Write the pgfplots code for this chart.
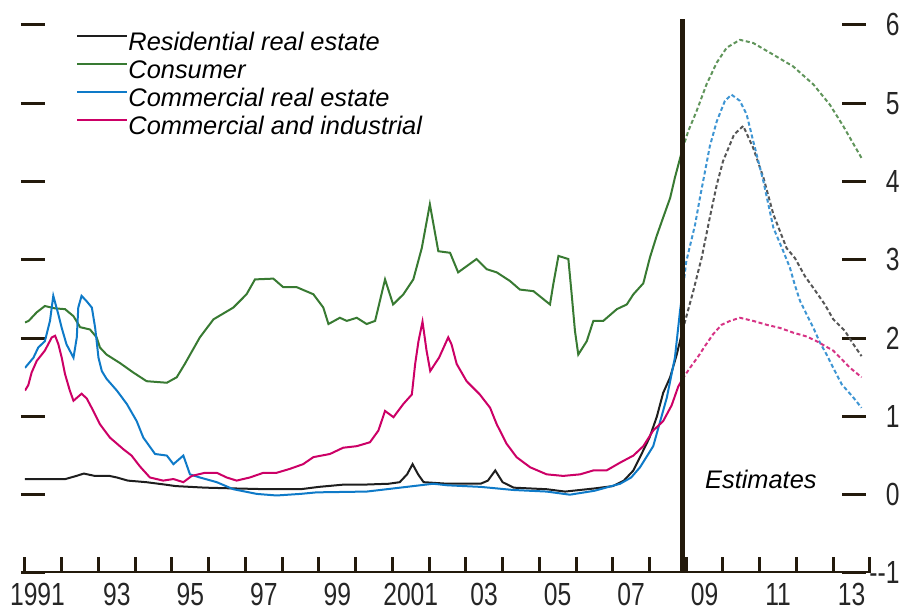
\documentclass[border=0pt]{standalone}
\usepackage{fontspec}
\setmainfont{Liberation Sans}
\newfontfamily\condfont[FakeStretch=0.77]{Liberation Sans}
\usepackage{pgfplots}
\pgfplotsset{compat=1.18}

\definecolor{axiscol}{RGB}{35,26,12}
\definecolor{resid}{RGB}{30,30,30}
\definecolor{cons}{RGB}{56,122,50}
\definecolor{cre}{RGB}{14,122,200}
\definecolor{cni}{RGB}{204,0,102}

\begin{document}
\begin{tikzpicture}
% picture frame: 902 x 610 px at 0.5pt per px, axis corner at px (25,573)
\useasboundingbox (-12.5pt,-18.5pt) rectangle (438.5pt,286.5pt);
\begin{axis}[
    at={(0,0)}, anchor=south west,
    scale only axis,
    width=422.5pt, height=276.75pt,
    xmin=1991, xmax=2014,
    ymin=-1, ymax=6.07,
    axis line style={draw=none},
    tick align=inside,
    xtick={1991,...,2014},
    xticklabels={1991\hspace*{5.9pt},{},93,{},95,{},97,{},99,{},2001,{},03,{},05,{},07,{},09,{},11,{},13,{}},
    xtick pos=left,
    xtick style={/pgfplots/major tick length=8pt, line width=1.5pt, draw=axiscol},
    xticklabel style={anchor=north, inner sep=0pt, yshift=-5pt, xshift=9.19pt},
    ytick={-1,0,...,6},
    yticklabels={--1,0,1,2,3,4,5,6},
    ytick pos=both,
    yticklabel pos=right,
    ytick style={/pgfplots/major tick length=12pt, line width=1.5pt, draw=axiscol, xshift=-2pt},
    yticklabel style={anchor=east, inner sep=0pt, xshift=15pt},
    tick label style={font=\condfont\fontsize{16}{18}\selectfont, text=black!85},
    legend style={at={(0.0604,0.9774)}, anchor=north west, draw=none, fill=none,
        inner sep=0pt, row sep=4.7pt,
        font=\fontsize{12.7}{14}\selectfont\itshape,
        nodes={inner sep=0pt, text height=9.3pt, text depth=0pt}},
    legend cell align=left,
    legend image code/.code={\draw[#1] (0pt,2.6pt) -- (25pt,2.6pt);},
]

% Residential real estate
\addplot[resid, line width=1pt] coordinates {
    (1991.0,0.20) (1991.5,0.20) (1992.1,0.20) (1992.4,0.24) (1992.6,0.27)
    (1992.9,0.24) (1993.3,0.24) (1993.5,0.22) (1993.8,0.18) (1994.3,0.16)
    (1994.8,0.13) (1995.1,0.11) (1995.9,0.09) (1996.7,0.08) (1997.6,0.07)
    (1998.5,0.07) (1999.0,0.10) (1999.7,0.13) (2000.3,0.13) (2000.9,0.14)
    (2001.2,0.16) (2001.4,0.26) (2001.55,0.39) (2001.7,0.26) (2001.85,0.16)
    (2002.5,0.14) (2003.4,0.14) (2003.6,0.18) (2003.8,0.31) (2004.0,0.16)
    (2004.3,0.09) (2005.2,0.07) (2005.7,0.04) (2006.5,0.08) (2007.0,0.11)
    (2007.3,0.18) (2007.56,0.31) (2007.74,0.48) (2008.0,0.73) (2008.2,1.0)
    (2008.37,1.30) (2008.56,1.50) (2008.74,1.79) (2008.9,2.10)
};
\addlegendentry{Residential real estate}

% Consumer
\addplot[cons, line width=1pt] coordinates {
    (1991.0,2.20) (1991.1,2.22) (1991.32,2.33) (1991.54,2.41) (1991.82,2.38)
    (1992.09,2.37) (1992.32,2.28) (1992.5,2.14) (1992.77,2.11) (1992.95,2.01)
    (1993.04,1.88) (1993.22,1.79) (1993.59,1.68) (1993.95,1.56) (1994.31,1.45)
    (1994.86,1.43) (1995.13,1.50) (1995.35,1.67) (1995.76,2.01) (1996.13,2.24)
    (1996.67,2.39) (1997.03,2.56) (1997.26,2.75) (1997.76,2.76) (1998.03,2.65)
    (1998.4,2.65) (1998.85,2.56) (1999.12,2.39) (1999.26,2.18) (1999.57,2.26)
    (1999.76,2.22) (2000.03,2.26) (2000.3,2.18) (2000.53,2.22) (2000.8,2.75)
    (2001.02,2.43) (2001.3,2.56) (2001.57,2.75) (2001.8,3.15) (2002.02,3.71)
    (2002.25,3.11) (2002.57,3.09) (2002.79,2.84) (2003.29,3.01) (2003.57,2.88)
    (2003.84,2.84) (2004.2,2.73) (2004.47,2.62) (2004.84,2.60) (2005.29,2.43)
    (2005.38,2.69) (2005.52,3.05) (2005.79,3.01) (2005.88,2.56) (2005.97,2.09)
    (2006.06,1.79) (2006.29,1.96) (2006.47,2.22) (2006.74,2.22) (2007.11,2.37)
    (2007.38,2.43) (2007.56,2.56) (2007.83,2.70) (2008.01,3.03) (2008.19,3.30)
    (2008.37,3.54) (2008.56,3.79) (2008.69,4.05) (2008.9,4.42)
};
\addlegendentry{Consumer}

% Commercial real estate
\addplot[cre, line width=1pt] coordinates {
    (1991.0,1.62) (1991.23,1.75) (1991.36,1.88) (1991.54,1.96) (1991.68,2.22)
    (1991.77,2.54) (1991.91,2.30) (1992.0,2.13) (1992.13,1.92) (1992.32,1.75)
    (1992.41,2.01) (1992.45,2.39) (1992.54,2.54) (1992.68,2.47) (1992.82,2.39)
    (1992.91,2.13) (1993.0,1.75) (1993.09,1.58) (1993.22,1.48) (1993.5,1.33)
    (1993.77,1.16) (1994.04,0.94) (1994.22,0.73) (1994.54,0.52) (1994.86,0.50)
    (1995.04,0.39) (1995.31,0.50) (1995.49,0.26) (1995.76,0.22) (1996.22,0.16)
    (1996.67,0.07) (1997.31,0.01) (1997.85,-0.01) (1998.49,0.01) (1998.94,0.03)
    (2000.3,0.04) (2001.21,0.09) (2002.11,0.14) (2002.5,0.12) (2003.4,0.10)
    (2004.3,0.06) (2005.2,0.04) (2005.83,0.0) (2006.5,0.05) (2007.2,0.14)
    (2007.5,0.22) (2007.74,0.35) (2008.1,0.62) (2008.47,1.24) (2008.69,1.75)
    (2008.83,2.35) (2008.9,2.60)
};
\addlegendentry{Commercial real estate}

% Commercial and industrial
\addplot[cni, line width=1pt] coordinates {
    (1991.0,1.33) (1991.09,1.40) (1991.18,1.56) (1991.32,1.71) (1991.54,1.84)
    (1991.73,2.01) (1991.82,2.03) (1991.91,1.92) (1992.0,1.75) (1992.09,1.54)
    (1992.22,1.33) (1992.32,1.20) (1992.54,1.29) (1992.68,1.23) (1992.86,1.07)
    (1993.04,0.90) (1993.31,0.73) (1993.68,0.58) (1993.9,0.50) (1994.13,0.36)
    (1994.4,0.22) (1994.76,0.18) (1995.04,0.20) (1995.31,0.16) (1995.54,0.24)
    (1995.9,0.28) (1996.22,0.28) (1996.49,0.22) (1996.76,0.18) (1997.12,0.22)
    (1997.49,0.28) (1997.85,0.28) (1998.21,0.33) (1998.57,0.39) (1998.85,0.48)
    (1999.3,0.52) (1999.66,0.60) (2000.03,0.62) (2000.39,0.67) (2000.62,0.82)
    (2000.8,1.07) (2001.03,0.99) (2001.3,1.16) (2001.53,1.28) (2001.62,1.67)
    (2001.71,1.96) (2001.82,2.21) (2001.93,1.84) (2002.03,1.58) (2002.27,1.75)
    (2002.52,2.01) (2002.61,1.92) (2002.75,1.67) (2003.02,1.45) (2003.38,1.28)
    (2003.66,1.11) (2003.84,0.90) (2004.11,0.65) (2004.38,0.48) (2004.75,0.35)
    (2005.2,0.26) (2005.65,0.24) (2006.11,0.26) (2006.47,0.31) (2006.83,0.31)
    (2007.2,0.41) (2007.56,0.50) (2007.83,0.62) (2008.1,0.82) (2008.37,0.94)
    (2008.6,1.14) (2008.78,1.38) (2008.9,1.48)
};
\addlegendentry{Commercial and industrial}

% --- estimates (dashed) ---
\addplot[resid!75, line width=1pt, dash pattern=on 2pt off 1.3pt, forget plot] coordinates {
    (2008.9,2.10) (2009.19,2.60) (2009.42,3.03) (2009.64,3.54) (2009.83,3.96)
    (2010.0,4.26) (2010.3,4.60) (2010.55,4.71) (2010.82,4.43) (2011.1,4.05)
    (2011.37,3.58) (2011.73,3.15) (2011.96,3.02) (2012.23,2.79) (2012.46,2.64)
    (2012.77,2.43) (2013.0,2.24) (2013.32,2.09) (2013.55,1.92) (2013.77,1.77)
};
\addplot[cons!80, line width=1pt, dash pattern=on 2pt off 1.3pt, forget plot] coordinates {
    (2008.9,4.42) (2009.05,4.64) (2009.28,4.90) (2009.55,5.24) (2009.83,5.52)
    (2010.1,5.71) (2010.46,5.81) (2010.82,5.77) (2011.37,5.62) (2011.91,5.47)
    (2012.46,5.24) (2012.91,4.98) (2013.27,4.71) (2013.77,4.30)
};
\addplot[cre!80, line width=1pt, dash pattern=on 2pt off 1.3pt, forget plot] coordinates {
    (2008.9,2.60) (2009.0,2.98) (2009.24,3.45) (2009.37,3.79) (2009.51,4.13)
    (2009.64,4.45) (2009.83,4.77) (2010.05,5.03) (2010.23,5.11) (2010.46,5.03)
    (2010.64,4.86) (2010.82,4.52) (2011.1,4.00) (2011.37,3.41) (2011.64,3.11)
    (2011.82,2.90) (2011.96,2.67) (2012.1,2.47) (2012.28,2.30) (2012.46,2.13)
    (2012.64,1.94) (2012.82,1.79) (2013.0,1.62) (2013.23,1.41) (2013.55,1.24)
    (2013.77,1.11)
};
\addplot[cni!80, line width=1pt, dash pattern=on 2pt off 1.3pt, forget plot] coordinates {
    (2008.9,1.48) (2009.1,1.62) (2009.33,1.77) (2009.51,1.90) (2009.73,2.05)
    (2009.96,2.17) (2010.19,2.22) (2010.46,2.26) (2010.82,2.22) (2011.19,2.17)
    (2011.55,2.13) (2011.91,2.07) (2012.28,2.02) (2012.55,1.96) (2013.0,1.84)
    (2013.46,1.62) (2013.77,1.50)
};

% bottom axis line and the estimates divider
\draw[axiscol, line width=1.5pt] (rel axis cs:0,0) -- (rel axis cs:1,0);
\draw[axiscol, line width=2.2pt] (axis cs:2008.9,-1) -- (axis cs:2008.9,6.07);
\node[font=\fontsize{12.7}{14}\selectfont\itshape, inner sep=0pt]
    at (axis cs:2011.03,0.20) {Estimates};

\end{axis}
\end{tikzpicture}
\end{document}
